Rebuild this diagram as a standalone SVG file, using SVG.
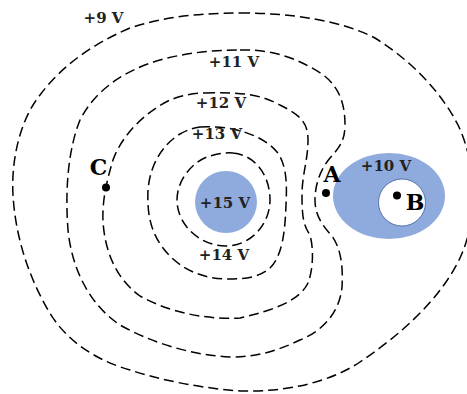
<svg xmlns="http://www.w3.org/2000/svg" width="467" height="394" viewBox="0 0 467 394">
<style>
.eq{fill:none;stroke:#000;stroke-width:1.5;stroke-dasharray:10 5}
.lbl{font-family:"DejaVu Serif","Liberation Serif",serif;font-weight:bold;font-size:15px;fill:#222;text-anchor:middle}
.pt{font-family:"DejaVu Serif","Liberation Serif",serif;font-weight:bold;font-size:22px;fill:#000;text-anchor:middle}
.dot{fill:#000}
.charge{fill:#8faadc}
</style>
<rect width="467" height="394" fill="#fff"/>
<g id="node-15V">
<circle class="charge" cx="226" cy="202" r="31"/>
<text class="lbl" x="225" y="208">+15 V</text>
</g>
<g id="node-10V">
<ellipse class="charge" cx="389" cy="196" rx="56" ry="43"/>
<circle cx="402" cy="202.5" r="23.5" fill="#fff" stroke="#3a5a9a" stroke-width="0.8"/>
<text class="lbl" x="386" y="171">+10 V</text>
</g>
<g id="equipotentials">
<path class="eq" d="M240,13 C290,13 340,20 375,38 C410,60 440,90 458,125 C475,160 480,215 460,258 C440,300 400,335 360,362 C325,385 280,392 240,391 C200,388 160,380 130,370 C95,360 65,340 48,310 C25,270 15,230 13,195 C11,160 20,120 40,95 C60,68 90,45 130,28 C165,16 205,13 240,13 Z"/>
<path class="eq" d="M240,50 C275,49 300,60 322,74 C340,87 345,105 345,125 C345,140 340,147 330,158 C320,170 315,185 315,200 C315,215 322,225 332,236 C342,250 343,270 342,287 C340,310 325,330 300,340 C275,352 255,357 230,357 C190,355 150,342 120,325 C90,305 72,270 68,230 C65,190 68,150 80,120 C95,90 125,70 160,60 C185,53 212,50 240,50 Z"/>
<path class="eq" d="M205,93 C240,92 260,94 280,105 C300,115 308,122 308,140 C308,160 302,175 302,195 C302,215 303,225 310,235 C314,250 313,270 308,283 C300,300 275,310 240,318 C200,320 165,310 140,296 C115,278 105,250 103,222 C102,200 107,180 113,160 C122,135 145,112 170,100 C180,96 193,93 205,93 Z"/>
<path class="eq" d="M200,127 C230,125 262,134 277,152 C287,165 287,185 286,205 C285,230 283,255 270,268 C258,279 240,279 225,279 C200,278 178,268 163,248 C150,231 147,212 148,190 C150,165 162,145 180,134 C187,130 193,128 200,127 Z"/>
<path class="eq" d="M233,153 C255,155 270,175 270,200 C270,225 250,246 226,246 C200,246 177,225 177,200 C177,178 195,160 210,156 C218,154 226,152 233,153 Z"/>
</g>
<g id="labels">
<text class="lbl" x="103.5" y="23">+9 V</text>
<text class="lbl" x="234" y="67">+11 V</text>
<text class="lbl" x="221" y="108">+12 V</text>
<text class="lbl" x="217" y="139">+13 V</text>
<text class="lbl" x="224" y="260">+14 V</text>
</g>
<g id="point-A">
<circle class="dot" cx="326" cy="193" r="4"/>
<text class="pt" x="332" y="182">A</text>
</g>
<g id="point-B">
<circle class="dot" cx="397" cy="195.5" r="4"/>
<text class="pt" x="415" y="210">B</text>
</g>
<g id="point-C">
<circle class="dot" cx="106" cy="187.5" r="4"/>
<text class="pt" x="98.5" y="175">C</text>
</g>
</svg>
